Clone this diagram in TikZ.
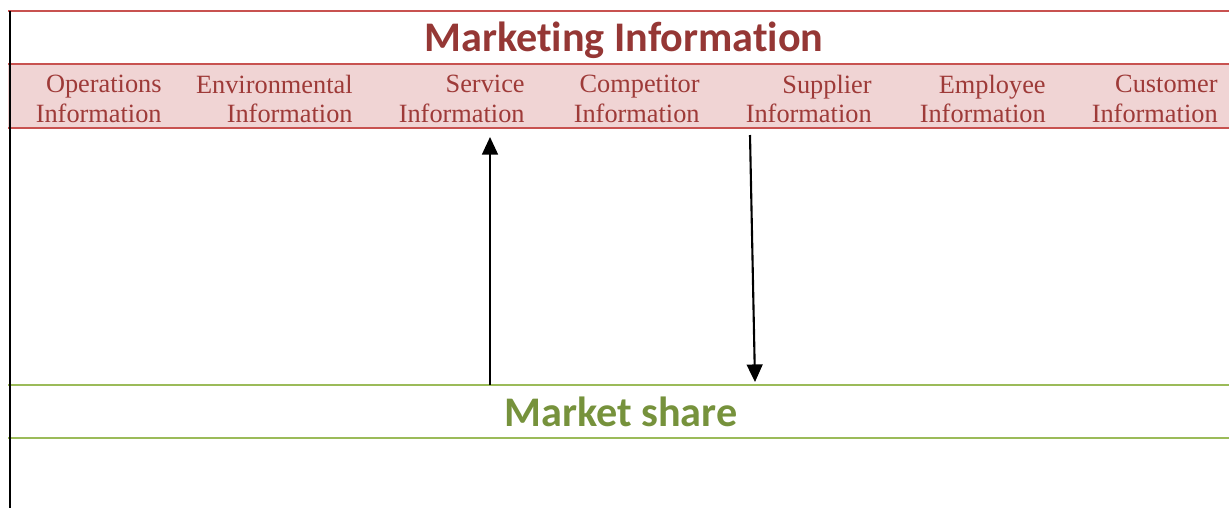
\documentclass[tikz,border=0pt]{standalone}
\usepackage{fontspec}
\setmainfont{Liberation Serif}
\newfontfamily\headFont[RawFeature=-liga]{Carlito}
\usetikzlibrary{arrows.meta}
\definecolor{bandRed}{RGB}{200,82,80}
\definecolor{bandFill}{RGB}{240,212,212}
\definecolor{titleRed}{RGB}{149,55,53}
\definecolor{labelRed}{RGB}{158,58,56}
\definecolor{shareGreen}{RGB}{155,187,89}
\definecolor{shareText}{RGB}{118,146,60}
\newcommand{\pxUnit}{0.02cm}
\newcommand{\bandTop}{64}
\newcommand{\bandBottom}{128}
\newcommand{\shareTop}{385}
\newcommand{\shareBottom}{438}
\newcommand{\labelRow}{99}

\begin{document}
\begin{tikzpicture}[x=\pxUnit, y=-\pxUnit,
    infolabel/.style={anchor=east, align=right, inner sep=0pt, text=labelRed,
      font=\fontsize{15pt}{17pt}\selectfont},
    flow/.style={-{Triangle[width=9pt,length=10pt]}, line width=1.2pt}]
\useasboundingbox (0,0) rectangle (1229,508);
% pink band with the kinds of information
\fill[bandFill] (8,\bandTop) rectangle (1229,\bandBottom);
\draw[bandRed, line width=1.5pt] (8,11) -- (1229,11);
\draw[bandRed, line width=1.5pt] (8,\bandTop) -- (1229,\bandTop);
\draw[bandRed, line width=1.5pt] (8,\bandBottom) -- (1229,\bandBottom);
\node (marketinfo) [text=titleRed, font=\headFont\bfseries\fontsize{24pt}{28pt}\selectfont]
  at (624,40) {Marketing Information};
\node (opsinfo) [infolabel] at (162,\labelRow) {Operations\\Information};
\node (envinfo) [infolabel] at (353,\labelRow) {Environmental\\Information};
\node (serviceinfo) [infolabel] at (525,\labelRow) {Service\\Information};
\node (compinfo) [infolabel] at (700,\labelRow) {Competitor\\Information};
\node (supplyinfo) [infolabel] at (872,\labelRow) {Supplier\\Information};
\node (staffinfo) [infolabel] at (1046,\labelRow) {Employee\\Information};
\node (custinfo) [infolabel] at (1218,\labelRow) {Customer\\Information};
% green market share strip
\draw[shareGreen, line width=1.5pt] (8,\shareTop) -- (1229,\shareTop);
\draw[shareGreen, line width=1.5pt] (8,\shareBottom) -- (1229,\shareBottom);
\node (share) [text=shareText, font=\headFont\bfseries\fontsize{24pt}{28pt}\selectfont]
  at (621,412) {Market share};
% left border
\draw[line width=1.3pt] (10,11) -- (10,508);
% flows between the strip and the band
\coordinate (upstart) at (490,\shareTop);
\coordinate (upend) at (490,137);
\coordinate (downstart) at (750,135);
\coordinate (downend) at (755,382);
\draw[flow] (upstart) -- (upend);
\draw[flow] (downstart) -- (downend);
\end{tikzpicture}
\end{document}
